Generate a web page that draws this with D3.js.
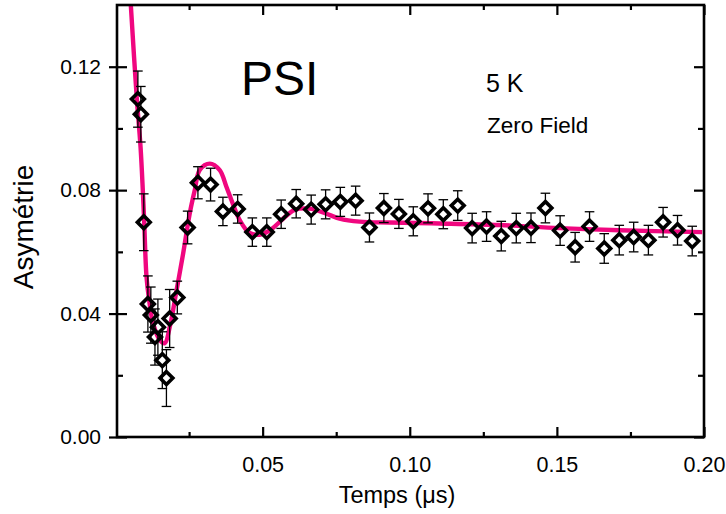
<!DOCTYPE html>
<html><head><meta charset="utf-8">
<script src="https://cdn.jsdelivr.net/npm/d3@7/dist/d3.min.js"></script>
<style>body{margin:0;background:#fff}svg{display:block}text{font-family:"Liberation Sans",Arial,sans-serif;fill:#000}</style>
</head><body><svg id="c" width="726" height="514"></svg>
<script>
// Measured muon asymmetry data (time in µs)
const time = [0.0076,0.0086,0.0096,0.0110,0.0120,0.0134,0.0144,0.0159,0.0173,0.0184,
  0.0210,0.0245,0.0280,0.0323,0.0365,0.0415,0.0465,0.0514,0.0563,0.0614,
  0.0665,0.0714,0.0764,0.0816,0.0863,0.0912,0.0963,0.1012,0.1062,0.1114,
  0.1163,0.1212,0.1261,0.1311,0.1362,0.1412,0.1461,0.1511,0.1562,0.1611,
  0.1661,0.1712,0.1761,0.1811,0.1861,0.1910,0.1960];
const asym = [0.1095,0.1046,0.0696,0.0431,0.0395,0.0324,0.0356,0.0249,0.0191,0.0384,
  0.0452,0.0679,0.0824,0.0818,0.0731,0.0739,0.0664,0.0664,0.0722,0.0756,
  0.0737,0.0754,0.0762,0.0766,0.0679,0.0742,0.0723,0.0699,0.0741,0.0722,
  0.0750,0.0677,0.0682,0.0651,0.0677,0.0678,0.0742,0.0669,0.0615,0.0682,
  0.0611,0.0638,0.0648,0.0638,0.0696,0.0670,0.0635];
const errs = [0.0091,0.0090,0.0092,0.0091,0.0091,0.0091,0.0091,0.0092,0.0092,0.0094,
  0.0053,0.0053,0.0052,0.0053,0.0046,0.0046,0.0046,0.0046,0.0046,0.0046,
  0.0047,0.0047,0.0047,0.0047,0.0047,0.0047,0.0047,0.0047,0.0047,0.0047,
  0.0048,0.0048,0.0048,0.0048,0.0048,0.0048,0.0048,0.0048,0.0048,0.0048,
  0.0048,0.0048,0.0048,0.0048,0.0048,0.0048,0.0048];
// Fit curve
const fitTime = [0.0052,0.00724,0.0085,0.00927,0.00972,0.01053,0.01142,0.01277,0.01505,0.01674,
  0.01844,0.02075,0.02299,0.02523,0.02693,0.02862,0.03201,0.03541,0.03768,0.03938,
  0.0422,0.04559,0.04966,0.05305,0.05645,0.06086,0.06595,0.07104,0.07613,0.08292,
  0.0931,0.1101,0.1304,0.1508,0.1712,0.1994];
const fitAsym = [0.1399,0.1095,0.0940,0.0800,0.0703,0.0519,0.0444,0.0368,0.0314,0.0304,
  0.0357,0.0476,0.0595,0.0725,0.0800,0.0865,0.0886,0.0865,0.0811,0.0768,
  0.0703,0.0661,0.0657,0.0674,0.0703,0.0736,0.0740,0.0726,0.0708,0.0698,
  0.0695,0.0692,0.0687,0.0677,0.0670,0.0664];
const xTicks = [0.05,0.10,0.15,0.20];
const xMinor = [0.025,0.075,0.125,0.175];
const yTicks = [0.00,0.04,0.08,0.12];
const yMinor = [0.02,0.06,0.10];

const svg = d3.select("#c");
const L=117, R=704, T=5, B=437;
const x = d3.scaleLinear().domain([0.0005,0.2]).range([L,R]);
const y = d3.scaleLinear().domain([0,0.14]).range([B,T]);

svg.append("defs").append("clipPath").attr("id","clip").append("rect")
  .attr("x",L).attr("y",T).attr("width",R-L).attr("height",B-T);

// fit line
const fitData = fitTime.map((t,i)=>[t,fitAsym[i]]);
svg.append("path").datum(fitData).attr("clip-path","url(#clip)")
  .attr("d", d3.line().x(d=>x(d[0])).y(d=>y(d[1])).curve(d3.curveCatmullRom.alpha(0.5)))
  .attr("fill","none").attr("stroke","#f0077f").attr("stroke-width",4.4);

// error bars
const pts = time.map((t,i)=>({t, v:asym[i], e:errs[i]}));
const ms = 6.4, cap = 4.8;
const eb = svg.append("g").attr("stroke","#000").attr("stroke-width",1.3);
pts.forEach(p=>{
  const cx=x(p.t), cy=y(p.v), yt=y(p.v+p.e), yb=y(p.v-p.e);
  if (cy-ms-1 > yt) eb.append("line").attr("x1",cx).attr("x2",cx).attr("y1",yt).attr("y2",cy-ms-1);
  if (yb > cy+ms+1) eb.append("line").attr("x1",cx).attr("x2",cx).attr("y1",cy+ms+1).attr("y2",yb);
  eb.append("line").attr("x1",cx-cap).attr("x2",cx+cap).attr("y1",yt).attr("y2",yt);
  eb.append("line").attr("x1",cx-cap).attr("x2",cx+cap).attr("y1",yb).attr("y2",yb);
});
// markers
svg.append("g").selectAll("path").data(pts).join("path")
  .attr("d", d=>{const cx=x(d.t), cy=y(d.v);
    return `M${cx},${cy-ms}L${cx+ms},${cy}L${cx},${cy+ms}L${cx-ms},${cy}Z`;})
  .attr("fill","none").attr("stroke","#000").attr("stroke-width",3.6).attr("stroke-linejoin","miter");

// axes
const ax = svg.append("g");
const tickStyle = g=>g.select(".domain").remove();
// bottom
const gb = ax.append("g").attr("transform",`translate(0,${B})`)
  .call(d3.axisBottom(x).tickValues(xTicks).tickSizeInner(-10).tickSizeOuter(0).tickPadding(20).tickFormat(d3.format(".2f")));
gb.call(tickStyle);
gb.selectAll("line").attr("stroke-width",2.2);
gb.selectAll("text").attr("font-size",21.5);
ax.append("g").attr("transform",`translate(0,${B})`)
  .call(d3.axisBottom(x).tickValues(xMinor).tickSizeInner(-5).tickSizeOuter(0).tickFormat(""))
  .call(tickStyle).selectAll("line").attr("stroke-width",2.2);
// top
ax.append("g").attr("transform",`translate(0,${T})`)
  .call(d3.axisTop(x).tickValues(xTicks).tickSizeInner(-10).tickSizeOuter(0).tickFormat(""))
  .call(tickStyle).selectAll("line").attr("stroke-width",2.2);
ax.append("g").attr("transform",`translate(0,${T})`)
  .call(d3.axisTop(x).tickValues(xMinor).tickSizeInner(-5).tickSizeOuter(0).tickFormat(""))
  .call(tickStyle).selectAll("line").attr("stroke-width",2.2);
// left
const gl = ax.append("g").attr("transform",`translate(${L},0)`)
  .call(d3.axisLeft(y).tickValues(yTicks).tickSizeInner(8).tickSizeOuter(0).tickPadding(8).tickFormat(d3.format(".2f")));
gl.call(tickStyle);
gl.selectAll("line").attr("stroke-width",2.2).attr("x2",10).attr("x1",-8);
gl.selectAll("text").attr("font-size",21);
ax.append("g").attr("transform",`translate(${L},0)`)
  .call(d3.axisLeft(y).tickValues(yMinor).tickSizeInner(-6).tickSizeOuter(0).tickFormat(""))
  .call(tickStyle).selectAll("line").attr("stroke-width",2.2);
// right
ax.append("g").attr("transform",`translate(${R},0)`)
  .call(d3.axisRight(y).tickValues(yTicks).tickSizeInner(-10).tickSizeOuter(0).tickFormat(""))
  .call(tickStyle).selectAll("line").attr("stroke-width",2.2);
ax.append("g").attr("transform",`translate(${R},0)`)
  .call(d3.axisRight(y).tickValues(yMinor).tickSizeInner(-6).tickSizeOuter(0).tickFormat(""))
  .call(tickStyle).selectAll("line").attr("stroke-width",2.2);
// frame
svg.append("rect").attr("x",L).attr("y",T).attr("width",R-L).attr("height",B-T)
  .attr("fill","none").attr("stroke","#000").attr("stroke-width",2.6);

// titles
svg.append("text").attr("x",397).attr("y",503).attr("text-anchor","middle").attr("font-size",23.5).text("Temps (μs)");
svg.append("text").attr("transform","translate(33,227) rotate(-90)").attr("text-anchor","middle").attr("font-size",28).text("Asymétrie");
svg.append("text").attr("x",241).attr("y",95).attr("font-size",48).text("PSI");
svg.append("text").attr("x",486).attr("y",92).attr("font-size",25).text("5 K");
svg.append("text").attr("x",487).attr("y",133).attr("font-size",22.5).text("Zero Field");
</script></body></html>
